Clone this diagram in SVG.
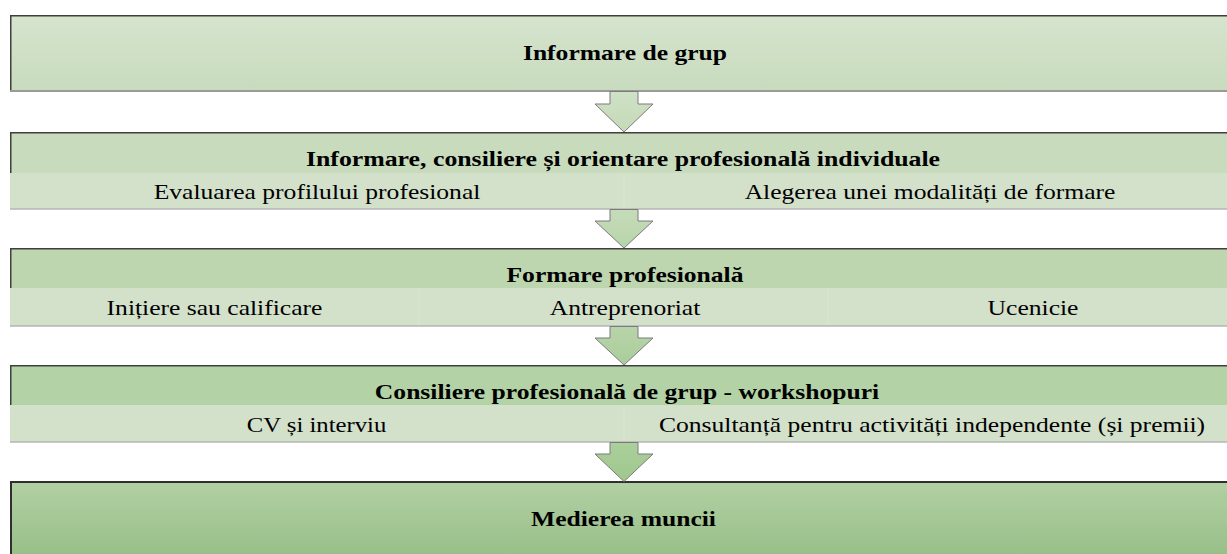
<svg xmlns="http://www.w3.org/2000/svg" width="1227" height="554" viewBox="0 0 1227 554">
<defs>
<linearGradient id="g1" x1="0" y1="0" x2="0" y2="1"><stop offset="0" stop-color="#d6e4ce"/><stop offset="1" stop-color="#c8dbbd"/></linearGradient>
<linearGradient id="g5" x1="0" y1="0" x2="0" y2="1"><stop offset="0" stop-color="#b2d0a4"/><stop offset="1" stop-color="#96be86"/></linearGradient>
<linearGradient id="a1" x1="0" y1="0" x2="0" y2="1"><stop offset="0" stop-color="#cfe1c6"/><stop offset="1" stop-color="#c4dab8"/></linearGradient>
<linearGradient id="a2" x1="0" y1="0" x2="0" y2="1"><stop offset="0" stop-color="#c5dcb9"/><stop offset="1" stop-color="#b8d4aa"/></linearGradient>
<linearGradient id="a3" x1="0" y1="0" x2="0" y2="1"><stop offset="0" stop-color="#b8d4aa"/><stop offset="1" stop-color="#aacd9a"/></linearGradient>
<linearGradient id="a4" x1="0" y1="0" x2="0" y2="1"><stop offset="0" stop-color="#accf9c"/><stop offset="1" stop-color="#9fc78d"/></linearGradient>
</defs>
<style>
text{font-family:"Liberation Serif","Times New Roman",serif;font-size:21.5px;fill:#000;text-anchor:middle}
.b{font-weight:bold}
.top{stroke:#3f3f3f;stroke-width:1.5;fill:none}
.bot{stroke:#9a9a9a;stroke-width:2;fill:none}
.sbot{stroke:#b4b4b4;stroke-width:1.5;fill:none}
.sub{fill:#d3e1cb}
.sep{stroke:#d9e5d2;stroke-width:1}
.arr{stroke:#7a7a7a;stroke-width:1}
</style>
<rect width="1227" height="554" fill="#fff"/>

<g id="node-informare-grup">
<rect x="10" y="15" width="1230" height="76" fill="url(#g1)"/>
<path class="top" d="M10.75 91V15.75H1240"/>
<path class="bot" d="M10 91H1240"/>
<text class="b" x="0" y="0" transform="translate(625 60) scale(1.19 1)">Informare de grup</text>
</g>

<g id="node-consiliere-individuala">
<rect x="10" y="132" width="1230" height="41" fill="#c8dbbc"/>
<rect class="sub" x="10" y="173" width="1230" height="36"/>
<line class="sep" x1="624" y1="173" x2="624" y2="208"/>
<path class="top" d="M10.75 173V132.75H1240"/>
<path class="sbot" d="M10 209H1240"/>
<text class="b" x="0" y="0" transform="translate(623 166) scale(1.2 1)">Informare, consiliere și orientare profesională individuale</text>
<text x="0" y="0" transform="translate(317 198.5) scale(1.19 1)">Evaluarea profilului profesional</text>
<text x="0" y="0" transform="translate(930 198.5) scale(1.19 1)">Alegerea unei modalități de formare</text>
</g>

<g id="node-formare-profesionala">
<rect x="10" y="248" width="1230" height="40" fill="#bdd6af"/>
<rect class="sub" x="10" y="288" width="1230" height="38"/>
<line class="sep" x1="419" y1="288" x2="419" y2="325"/>
<line class="sep" x1="828" y1="288" x2="828" y2="325"/>
<path class="top" d="M10.75 288V248.75H1240"/>
<path class="sbot" d="M10 326H1240"/>
<text class="b" x="0" y="0" transform="translate(625 282) scale(1.19 1)">Formare profesională</text>
<text x="0" y="0" transform="translate(214.5 315) scale(1.19 1)">Inițiere sau calificare</text>
<text x="0" y="0" transform="translate(625 315) scale(1.19 1)">Antreprenoriat</text>
<text x="0" y="0" transform="translate(1033 315) scale(1.19 1)">Ucenicie</text>
</g>

<g id="node-consiliere-grup">
<rect x="10" y="365" width="1230" height="40" fill="#b3d2a5"/>
<rect class="sub" x="10" y="405" width="1230" height="37"/>
<line class="sep" x1="624" y1="405" x2="624" y2="441"/>
<path class="top" d="M10.75 405V365.75H1240"/>
<path class="sbot" d="M10 442H1240"/>
<text class="b" x="0" y="0" transform="translate(627 399) scale(1.19 1)">Consiliere profesională de grup - workshopuri</text>
<text x="0" y="0" transform="translate(316.5 431.5) scale(1.15 1)">CV și interviu</text>
<text x="0" y="0" transform="translate(932 431.5) scale(1.19 1)">Consultanță pentru activități independente (și premii)</text>
</g>

<g id="node-medierea-muncii">
<rect x="10" y="481" width="1230" height="80" fill="url(#g5)"/>
<path class="top" d="M11 561V482H1240" style="stroke:#2f2f2f;stroke-width:2"/>
<text class="b" x="0" y="0" transform="translate(623.5 526) scale(1.19 1)">Medierea muncii</text>
</g>

<g id="connectors">
<path class="arr" fill="url(#a1)" d="M610 91.5V104H595L624 132L653 104H638V91.5Z"/>
<path class="arr" fill="url(#a2)" d="M610 209.5V221H595L624 248L653 221H638V209.5Z"/>
<path class="arr" fill="url(#a3)" d="M610 326.5V338H595L624 365L653 338H638V326.5Z"/>
<path class="arr" fill="url(#a4)" d="M610 442.5V454H595L624 481.5L653 454H638V442.5Z"/>
</g>
</svg>
